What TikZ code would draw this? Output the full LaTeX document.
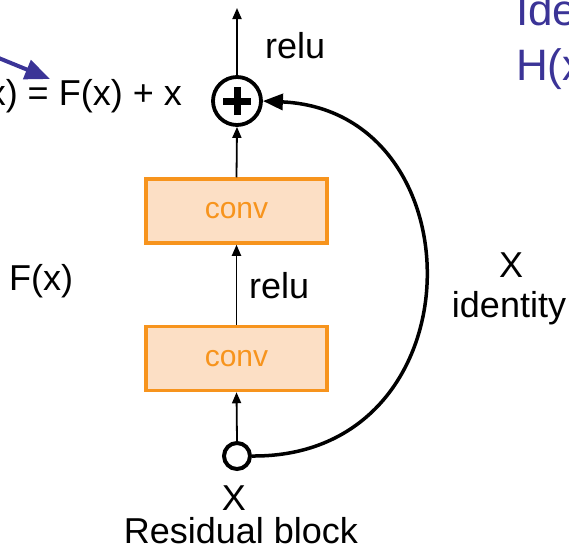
\documentclass[tikz,border=0pt]{standalone}
\usepackage{fontspec}
\setmainfont{Liberation Sans}
\usetikzlibrary{arrows.meta}
\definecolor{convedge}{HTML}{F7941D}
\definecolor{convfill}{HTML}{FCDFC5}
\definecolor{slideblue}{HTML}{3B3497}
\tikzset{
  convbox/.style={draw=convedge,fill=convfill,line width=3.5pt,minimum width=181pt,minimum height=64pt,
    inner sep=0pt,text=convedge,font=\fontsize{30}{34}\selectfont},
  lbl/.style={inner sep=0pt,font=\fontsize{36}{40}\selectfont},
  bluelbl/.style={inner sep=0pt,text=slideblue,font=\fontsize{44}{50}\selectfont},
  flow/.style={-{Triangle[length=11pt,width=9pt]},line width=1.8pt},
}
\begin{document}
\begin{tikzpicture}[x=1pt,y=-1pt]
        \useasboundingbox (0,0) rectangle (569,549);
        \clip (0,0) rectangle (569,549);
        % the block
        \node[draw,circle,line width=3.8pt,minimum size=48pt,inner sep=0pt] (plus) at (237,101) {};
        \draw[line width=7pt] ([xshift=-14pt]plus.center) -- ([xshift=14pt]plus.center);
        \draw[line width=7pt] ([yshift=-14pt]plus.center) -- ([yshift=14pt]plus.center);
        \node[convbox] (conv1) at (236.5,211) {conv};
        \node[convbox] (conv2) at (236.5,358.5) {conv};
        \node[draw,circle,line width=4pt,minimum size=26pt,inner sep=0pt] (xin) at (237,456) {};
        \coordinate (out) at (237,8);
        \draw[flow] (plus.north) -- (out);
        \draw[flow] (conv1.north) -- (plus.south);
        \draw[flow] (conv2.north) -- (conv1.south);
        \draw[flow] (xin.north) -- (conv2.south);
        \draw[-{Triangle[length=20pt,width=16pt]},line width=3.5pt]
            (xin.east) .. controls +(228,2) and +(218,10) .. (plus.east);
        % labels
        \node[lbl,anchor=base west] (relutop) at (265,58) {relu};
        \node[lbl,anchor=base west] (relumid) at (249,298) {relu};
        \node[lbl,anchor=base east] (hx) at (182,105) {H(x) = F(x) + x};
        \node[lbl,anchor=base west] (fx) at (9,290) {F(x)};
        \node[lbl,anchor=base] (xid) at (511,277) {X};
        \node[lbl,anchor=base] (ident) at (509,317) {identity};
        \node[lbl,anchor=base] (xbot) at (234,510) {X};
        \node[lbl,anchor=base] (title) at (241,543) {Residual block};
        \node[bluelbl,anchor=base west] (idline) at (516,25) {Identity};
        \node[bluelbl,anchor=base west] (hline) at (516,80) {H(x)};
        \coordinate (from) at (-60,34);
        \draw[-{Triangle[length=25pt,width=20pt]},line width=4pt,slideblue] (from) -- (50,79);
\end{tikzpicture}
\end{document}
